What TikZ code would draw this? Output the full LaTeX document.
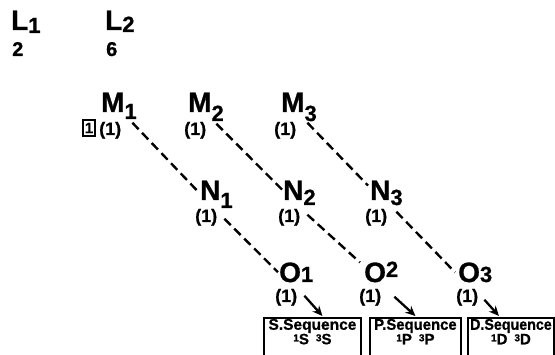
\documentclass[tikz,border=0pt]{standalone}
\usepackage{fontspec}
\usepackage{graphicx}
\setmainfont{Liberation Sans}[BoldFeatures={FakeBold=0.8}]
\usetikzlibrary{arrows.meta}
\newcommand\lbl[3]{#1\raisebox{#3pt}{\fontsize{22}{22}\selectfont #2}}
\newcommand\seqtext[4]{\begin{minipage}[t][50pt][t]{#1pt}\vspace{1pt}\centering\scalebox{#4}[1]{#2}\\[-1pt]{\fontsize{15}{15}\selectfont\raisebox{3pt}{\fontsize{10}{10}\selectfont 1}#3\hspace{7pt}\raisebox{3pt}{\fontsize{10}{10}\selectfont 3}#3}\end{minipage}}
\begin{document}
\begin{tikzpicture}[x=1pt,y=-1pt,
  big/.style={anchor=base west,inner sep=0pt,font=\fontsize{28}{28}\selectfont\bfseries},
  num/.style={anchor=base west,inner sep=0pt,font=\fontsize{20}{20}\selectfont\bfseries},
  par/.style={anchor=base west,inner sep=0pt,font=\fontsize{18}{18}\selectfont\bfseries},
  tagbox/.style={draw,line width=1.6pt,inner sep=0pt,minimum width=12pt,minimum height=16pt,font=\fontsize{15}{15}\selectfont\bfseries},
  dsh/.style={line width=2.4pt,dash pattern=on 9pt off 5pt},
  arr/.style={line width=2.3pt,-{Stealth[length=10pt,width=9pt]}},
  seqbox/.style={draw,line width=1.9pt,anchor=north west,inner sep=0pt,font=\fontsize{15.5}{15.5}\selectfont\bfseries}
]
\fill[white] (0,0) rectangle (555,355);
\useasboundingbox (0,0) rectangle (555,355);
\clip (0,0) rectangle (555,355);

% L row
\node[big] (L1) at (11,30) {\lbl{L}{1}{-3}};
\node[num] (L1n) at (12,56) {2};
\node[big] (L2) at (105,30) {\lbl{L}{2}{-2}};
\node[num] (L2n) at (106,56) {6};

% M row
\node[big] (M1) at (101,112) {\lbl{M}{1}{-7}};
\node[big] (M2) at (188,112) {\lbl{M}{2}{-9}};
\node[big] (M3) at (281,112) {\lbl{M}{3}{-9}};
\node[par] (m1p) at (99,135) {(1)};
\node[par] (m2p) at (184,135) {(1)};
\node[par] (m3p) at (274,135) {(1)};
\node[tagbox] (tag) at (89,128) {1};

% N row
\node[big] (N1) at (200,200) {\lbl{N}{1}{-8}};
\node[big] (N2) at (283,200) {\lbl{N}{2}{-5}};
\node[big] (N3) at (370,200) {\lbl{N}{3}{-5}};
\node[par] (n1p) at (195,222) {(1)};
\node[par] (n2p) at (278,222) {(1)};
\node[par] (n3p) at (365,222) {(1)};

% O row
\node[big] (O1) at (279,282) {\lbl{O}{1}{0}};
\node[big] (O2) at (364,282) {\lbl{O}{2}{5}};
\node[big] (O3) at (458,282) {\lbl{O}{3}{0}};
\node[par] (o1p) at (275,302) {(1)};
\node[par] (o2p) at (359,302) {(1)};
\node[par] (o3p) at (456,302) {(1)};

% sequence boxes
\node[seqbox] (b1) at (263,317) {\seqtext{97}{S.Sequence}{S}{1}};
\node[seqbox] (b2) at (369,317) {\seqtext{91}{P.Sequence}{P}{0.96}};
\node[seqbox] (b3) at (467,317) {\seqtext{86}{D.Sequence}{D}{0.92}};

% dashed connectors
\draw[dsh] ([shift={(11,1)}]m1p.north east) -- ([shift={(-2,11)}]N1.north west);
\draw[dsh] ([shift={(10,2)}]m2p.north east) -- ([shift={(-1,9)}]N2.north west);
\draw[dsh] ([shift={(11,1)}]m3p.north east) -- ([shift={(-2,5)}]N3.north west);
\draw[dsh] ([shift={(7,10)}]n1p.north east) -- ([shift={(-1,10)}]O1.north west);
\draw[dsh] ([shift={(7,6)}]n2p.north east) -- ([shift={(-4,1)}]O2.north west);
\draw[dsh] ([shift={(9,3)}]n3p.north east) -- ([shift={(-3,10)}]O3.north west);

% arrows
\draw[arr] ([shift={(7,7)}]o1p.north east) -- ([shift={(10,-1)}]b1.north);
\draw[arr] ([shift={(13,8)}]o2p.north east) -- ([shift={(0,-1)}]b2.north);
\draw[arr] ([shift={(6,11)}]o3p.north east) -- ([shift={(-12,-1)}]b3.north);
\end{tikzpicture}
\end{document}
